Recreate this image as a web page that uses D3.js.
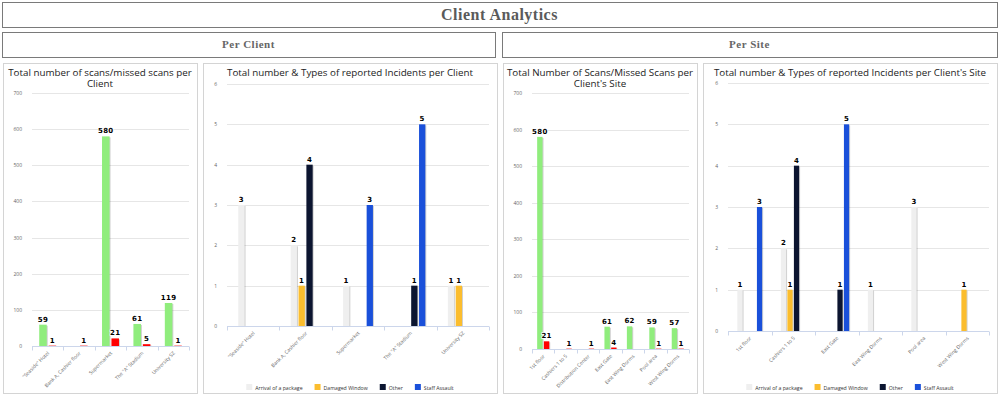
<!DOCTYPE html>
<html>
<head>
<meta charset="utf-8">
<script src="https://cdn.jsdelivr.net/npm/d3@7"></script>
<style>
  body { margin: 0; background: #fff; }
  svg { display: block; }
</style>
</head>
<body>
<svg id="page" width="1000" height="397"></svg>
<script>
// ---- data ----
var clients = ['"Seaside" Hotel', 'Bank A, Cashier floor', 'Supermarket', 'The "A" Stadium', 'University SZ'];
var clientScans = [59, null, 580, 61, 119];
var clientMissed = [1, 1, 21, 5, 1];

var incidentTypes = ['Arrival of a package', 'Damaged Window', 'Other', 'Staff Assault'];
var typeColors = ['#efefef', '#fbbd2e', '#0c1530', '#1a50da'];

var clientArrival = [3, 2, 1, 0, 1];
var clientDamaged = [0, 1, 0, 0, 1];
var clientOther = [0, 4, 0, 1, 0];
var clientStaff = [0, 0, 3, 5, 0];

var sites = ['1st floor', 'Cashiers 1 to 5', 'Distribution Center', 'East Gate', 'East Wing Dorms', 'Pool area', 'West Wing Dorms'];
var siteScans = [580, null, null, 61, 62, 59, 57];
var siteMissed = [21, 1, 1, 4, null, 1, 1];

var incidentSites = ['1st floor', 'Cashiers 1 to 5', 'East Gate', 'East Wing Dorms', 'Pool area', 'West Wing Dorms'];
var siteArrival = [1, 2, 0, 1, 3, 0];
var siteDamaged = [0, 1, 0, 0, 0, 1];
var siteOther = [0, 4, 1, 0, 0, 0];
var siteStaff = [3, 0, 5, 0, 0, 0];

var scanTicks = [0, 100, 200, 300, 400, 500, 600, 700];
var incidentTicks = [0, 1, 2, 3, 4, 5, 6];

var svg = d3.select('#page');

// header boxes
function headerBox(x0, y0, x1, y1, label, size, color)
{
  svg.append('rect')
    .attr('x', x0 + 0.5).attr('y', y0 + 0.5)
    .attr('width', x1 - x0).attr('height', y1 - y0)
    .attr('fill', '#fff').attr('stroke', '#7a7a7a');
  svg.append('text')
    .attr('x', (x0 + x1) / 2).attr('y', (y0 + y1) / 2 + size * 0.35)
    .attr('text-anchor', 'middle')
    .attr('font-family', '"Liberation Serif", serif')
    .attr('font-weight', 'bold')
    .attr('font-size', size)
    .attr('letter-spacing', 0.5)
    .attr('fill', color)
    .text(label);
}
headerBox(2, 2, 997, 27, 'Client Analytics', 16, '#5a5a5a');
headerBox(2, 32, 495, 57, 'Per Client', 11, '#666');
headerBox(502, 32, 997, 57, 'Per Site', 11, '#666');

function drawChart(o)
{
  // panel
  svg.append('rect')
    .attr('x', o.panel[0] + 0.5).attr('y', o.panel[1] + 0.5)
    .attr('width', o.panel[2] - o.panel[0]).attr('height', o.panel[3] - o.panel[1])
    .attr('fill', '#fff').attr('stroke', '#d4d4d4');

  var g = svg.append('g');
  var cx = (o.panel[0] + o.panel[2]) / 2;
  o.title.forEach(function(t, i) {
    g.append('text')
      .attr('x', cx).attr('y', o.panel[1] + 12.5 + i * 11.5)
      .attr('text-anchor', 'middle')
      .attr('font-family', '"Open Sans", sans-serif')
      .attr('font-size', 9.8)
      .attr('fill', '#222')
      .text(t);
  });

  var y = d3.scaleLinear().domain([0, o.max]).range([o.plot[3], o.plot[2]]);
  var x0 = d3.scaleBand().domain(o.cats).range([o.plot[0], o.plot[1]]);
  var bw = x0.bandwidth();
  var x1 = d3.scaleBand().domain(o.series.map(function(s) { return s.name; }))
    .range([bw * 0.2, bw * 0.8]).paddingInner(0.2).paddingOuter(0.1);

  // grid
  g.selectAll('.grid').data(o.ticks.slice(1)).enter().append('line')
    .attr('x1', o.plot[0]).attr('x2', o.plot[1])
    .attr('y1', function(d) { return Math.round(y(d)) + 0.5; })
    .attr('y2', function(d) { return Math.round(y(d)) + 0.5; })
    .attr('stroke', '#e6e6e6');

  // y labels
  g.selectAll('.ylab').data(o.ticks).enter().append('text')
    .attr('x', o.plot[0] - 10).attr('y', function(d) { return y(d) + 2; })
    .attr('text-anchor', 'end')
    .attr('font-family', '"Open Sans", sans-serif')
    .attr('font-size', 5)
    .attr('fill', '#666')
    .text(function(d) { return d; });

  // bars
  o.series.forEach(function(s) {
    var rows = o.cats.map(function(c, i) { return { c: c, v: s.values[i] }; })
      .filter(function(d) { return d.v; });
    var sg = g.append('g');
    sg.selectAll('.shadow').data(rows).enter().append('rect')
      .attr('x', function(d) { return x0(d.c) + x1(s.name) + 1; })
      .attr('y', function(d) { return y(d.v) + 1; })
      .attr('width', x1.bandwidth())
      .attr('height', function(d) { return y(0) - y(d.v) - 1; })
      .attr('fill', 'rgba(0,0,0,0.18)');
    sg.selectAll('.bar').data(rows).enter().append('rect')
      .attr('x', function(d) { return x0(d.c) + x1(s.name); })
      .attr('y', function(d) { return y(d.v); })
      .attr('width', x1.bandwidth())
      .attr('height', function(d) { return y(0) - y(d.v); })
      .attr('fill', s.color);
    sg.selectAll('.lab').data(rows).enter().append('text')
      .attr('x', function(d) { return x0(d.c) + x1(s.name) + x1.bandwidth() / 2; })
      .attr('y', function(d) { return y(d.v) - 3; })
      .attr('text-anchor', 'middle')
      .attr('font-family', '"DejaVu Sans", sans-serif')
      .attr('font-weight', 'bold')
      .attr('font-size', 7)
      .attr('letter-spacing', 0.3)
      .attr('fill', '#000')
      .attr('stroke', '#fff').attr('stroke-width', 1.5)
      .attr('paint-order', 'stroke')
      .text(function(d) { return d.v; });
  });

  // x axis
  var base = Math.round(y(0)) + 0.5;
  g.append('line')
    .attr('x1', o.plot[0]).attr('x2', o.plot[1])
    .attr('y1', base).attr('y2', base)
    .attr('stroke', '#ccd6eb');
  var edges = o.cats.map(function(c) { return x0(c); }).concat([o.plot[1]]);
  g.selectAll('.tick').data(edges).enter().append('line')
    .attr('x1', function(d) { return Math.round(d) + 0.5; })
    .attr('x2', function(d) { return Math.round(d) + 0.5; })
    .attr('y1', base).attr('y2', base + 4)
    .attr('stroke', '#ccd6eb');
  g.selectAll('.xlab').data(o.cats).enter().append('text')
    .attr('transform', function(d) {
      return 'translate(' + (x0(d) + bw / 2 + 2) + ',' + (base + 7) + ') rotate(-45)';
    })
    .attr('text-anchor', 'end')
    .attr('font-family', '"Open Sans", sans-serif')
    .attr('font-size', 5)
    .attr('fill', '#666')
    .text(function(d) { return d; });

  // legend
  if (o.legend) {
    var lg = g.append('g');
    var xx = 0;
    o.series.forEach(function(s) {
      var it = lg.append('g').attr('transform', 'translate(' + xx + ',0)');
      it.append('rect').attr('x', 0).attr('y', -5).attr('width', 6).attr('height', 6).attr('fill', s.color);
      var t = it.append('text').attr('x', 9).attr('y', 0.5)
        .attr('font-family', '"Open Sans", sans-serif')
        .attr('font-size', 5.2)
        .attr('fill', '#333')
        .text(s.name);
      xx += 9 + t.node().getComputedTextLength() + 12;
    });
    xx -= 12;
    lg.attr('transform', 'translate(' + (cx - xx / 2) + ',' + 389 + ')');
  }
}

drawChart({
  panel: [3, 63, 197, 393],
  plot: [32, 189, 93, 346],
  title: ['Total number of scans/missed scans per', 'Client'],
  cats: clients, max: 700, ticks: scanTicks,
  series: [{ name: 'Scans', color: '#90ed7d', values: clientScans },
           { name: 'Missed', color: '#ff0000', values: clientMissed }],
  legend: false
});

drawChart({
  panel: [203, 63, 497, 393],
  plot: [227, 489, 84, 326],
  title: ['Total number & Types of reported Incidents per Client'],
  cats: clients, max: 6, ticks: incidentTicks,
  series: [clientArrival, clientDamaged, clientOther, clientStaff].map(function(v, i) {
    return { name: incidentTypes[i], color: typeColors[i], values: v };
  }),
  legend: true
});

drawChart({
  panel: [503, 63, 697, 393],
  plot: [532, 689, 93, 349],
  title: ['Total Number of Scans/Missed Scans per', "Client's Site"],
  cats: sites, max: 700, ticks: scanTicks,
  series: [{ name: 'Scans', color: '#90ed7d', values: siteScans },
           { name: 'Missed', color: '#ff0000', values: siteMissed }],
  legend: false
});

drawChart({
  panel: [703, 63, 997, 393],
  plot: [728, 989, 83, 331],
  title: ["Total number & Types of reported Incidents per Client's Site"],
  cats: incidentSites, max: 6, ticks: incidentTicks,
  series: [siteArrival, siteDamaged, siteOther, siteStaff].map(function(v, i) {
    return { name: incidentTypes[i], color: typeColors[i], values: v };
  }),
  legend: true
});
</script>
</body>
</html>
